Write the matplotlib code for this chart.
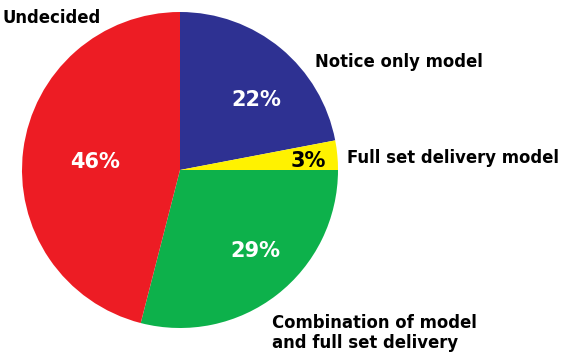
import matplotlib.pyplot as plt

labels = ['Notice only model', 'Full set delivery model',
          'Combination of model\nand full set delivery', 'Undecided']
shares = [22, 3, 29, 46]
colors = ['#2E3192', '#FFF200', '#0DB14B', '#ED1C24']
pct_colors = ['white', 'black', 'white', 'white']

plt.rcParams['font.family'] = ['DejaVu Sans']

fig = plt.figure(figsize=(5.72, 3.54), dpi=100)
W, H = 572, 354
# pie area in pixels: x 22..338, y 12..328
ax = fig.add_axes([22 / W, (H - 328) / H, 316 / W, 316 / H])

wedges, _ = ax.pie(shares, colors=colors, startangle=90, counterclock=False,
                   radius=1.0, wedgeprops=dict(linewidth=0))
ax.set_xlim(-1, 1)
ax.set_ylim(-1, 1)
ax.set_aspect('equal')
ax.axis('off')

# percentage labels inside the slices
pct_pos = [(0.48, 0.44), (0.81, 0.06), (0.48, -0.51), (-0.54, 0.05)]
for (x, y), v, c in zip(pct_pos, shares, pct_colors):
    ax.text(x, y, f'{v}%', color=c, fontsize=15, fontweight='bold',
            ha='center', va='center')

# category labels outside the pie
lab_kw = dict(fontsize=11.9, fontweight='bold', ha='left', va='center')
fig.text(2 / W, 1 - 18 / H, labels[3], **lab_kw)
fig.text(315 / W, 1 - 62 / H, labels[0], **lab_kw)
fig.text(347 / W, 1 - 158 / H, labels[1], **lab_kw)
fig.text(272 / W, 1 - 333 / H, labels[2], linespacing=1.15, **lab_kw)

fig.savefig('out.png', dpi=100)
